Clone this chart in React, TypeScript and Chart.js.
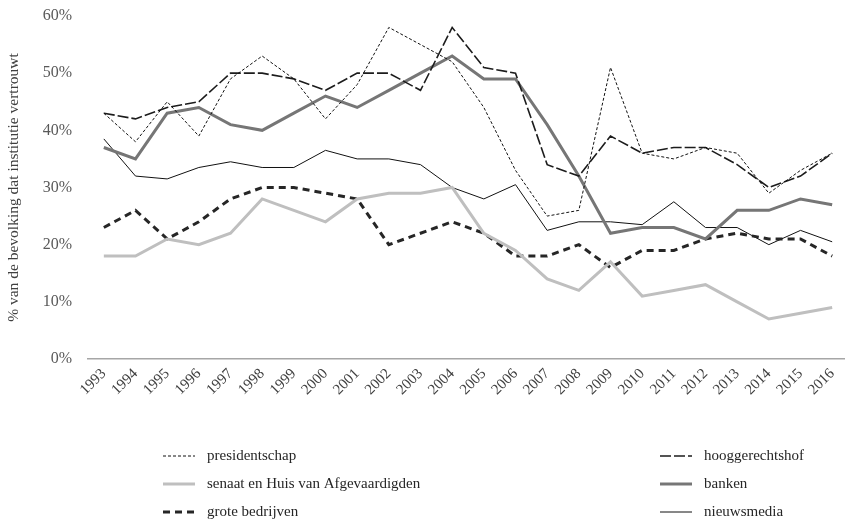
import React, { useEffect, useRef } from "react";
import { Chart, registerables } from "chart.js";

Chart.register(...registerables);

const years = ["1993","1994","1995","1996","1997","1998","1999","2000","2001","2002","2003","2004","2005","2006","2007","2008","2009","2010","2011","2012","2013","2014","2015","2016"];

const presidentschap = [43, 38, 45, 39, 49, 53, 49, 42, 48, 58, 55, 52, 44, 33, 25, 26, 51, 36, 35, 37, 36, 29, 33, 36];
const hooggerechtshof = [43, 42, 44, 45, 50, 50, 49, 47, 50, 50, 47, 58, 51, 50, 34, 32, 39, 36, 37, 37, 34, 30, 32, 36];
const senaat = [18, 18, 21, 20, 22, 28, 26, 24, 28, 29, 29, 30, 22, 19, 14, 12, 17, 11, 12, 13, 10, 7, 8, 9];
const banken = [37, 35, 43, 44, 41, 40, 43, 46, 44, 47, 50, 53, 49, 49, 41, 32, 22, 23, 23, 21, 26, 26, 28, 27];
const groteBedrijven = [23, 26, 21, 24, 28, 30, 30, 29, 28, 20, 22, 24, 22, 18, 18, 20, 16, 19, 19, 21, 22, 21, 21, 18];
const nieuwsmedia = [38.5, 32, 31.5, 33.5, 34.5, 33.5, 33.5, 36.5, 35, 35, 34, 30, 28, 30.5, 22.5, 24, 24, 23.5, 27.5, 23, 23, 20, 22.5, 20.5];

const yTicks = [0, 10, 20, 30, 40, 50, 60];
const yTitle = "% van de bevolking dat institutie vertrouwt";

const FONT = "'Liberation Serif', 'DejaVu Serif', serif";

const legendPlugin = {
  id: "gridLegend",
  afterDraw(chart: any) {
    const ctx = chart.ctx;
    const cols = [163, 660];
    const rows = [456, 484, 512];
    const sampleLen = 32;
    ctx.save();
    chart.data.datasets.forEach((ds: any, i: number) => {
      const x = cols[i % 2];
      const y = rows[Math.floor(i / 2)];
      ctx.beginPath();
      ctx.strokeStyle = ds.borderColor;
      ctx.lineWidth = ds.borderWidth;
      ctx.setLineDash(ds.borderDash || []);
      ctx.moveTo(x, y);
      ctx.lineTo(x + sampleLen, y);
      ctx.stroke();
      ctx.setLineDash([]);
      ctx.fillStyle = "#262626";
      ctx.font = "15px " + FONT;
      ctx.textBaseline = "middle";
      ctx.textAlign = "left";
      ctx.fillText(ds.label, x + sampleLen + 12, y);
    });
    ctx.restore();
  },
};

export default function App() {
  const ref = useRef<HTMLCanvasElement>(null);

  useEffect(() => {
    if (!ref.current) return;
    const mk = (label: string, data: number[], color: string, width: number, dash: number[]) => ({
      label,
      data,
      borderColor: color,
      backgroundColor: color,
      borderWidth: width,
      borderDash: dash,
      pointRadius: 0,
      tension: 0,
      fill: false,
      borderJoinStyle: "miter",
    });
    const chart = new Chart(ref.current, {
      type: "line",
      data: {
        labels: years,
        datasets: [
          mk("presidentschap", presidentschap, "#111111", 1, [3, 2]),
          mk("hooggerechtshof", hooggerechtshof, "#1c1c1c", 1.6, [11, 3]),
          mk("senaat en Huis van Afgevaardigden", senaat, "#bfbfbf", 3, []),
          mk("banken", banken, "#767676", 3, []),
          mk("grote bedrijven", groteBedrijven, "#262626", 3, [7, 5]),
          mk("nieuwsmedia", nieuwsmedia, "#111111", 1, []),
        ] as any,
      },
      options: {
        animation: false,
        responsive: false,
        devicePixelRatio: 1,
        layout: { padding: { left: 0, right: 8, top: 16, bottom: 115 } },
        plugins: {
          legend: { display: false },
          tooltip: { enabled: false },
        },
        scales: {
          x: {
            type: "category",
            offset: true,
            grid: { display: false, drawTicks: false },
            border: { display: true, color: "#a6a6a6", width: 1.5 },
            ticks: {
              autoSkip: false,
              minRotation: 45,
              maxRotation: 45,
              padding: 6,
              color: "#404040",
              font: { family: FONT, size: 15 },
            },
            afterFit: (s: any) => { s.height = 50; },
          },
          y: {
            min: 0,
            max: 60,
            grid: { display: false, drawTicks: false },
            border: { display: false },
            afterBuildTicks: (s: any) => { s.ticks = yTicks.map((v) => ({ value: v })); },
            ticks: {
              padding: 16,
              color: "#595959",
              font: { family: FONT, size: 16 },
              callback: (v: any) => v + "%",
            },
            title: {
              display: true,
              text: yTitle,
              color: "#404040",
              font: { family: FONT, size: 15.5 },
              padding: { top: 5, bottom: 0 },
            },
            afterFit: (s: any) => {
              s.width = 88;
              s.paddingTop = 4;
              s.paddingBottom = 4;
            },
          },
        },
      },
      plugins: [legendPlugin],
    });
    return () => chart.destroy();
  }, []);

  return (
    <div style={{ position: "fixed", left: 0, top: 0, width: 845, height: 524, overflow: "hidden", background: "#fff" }}>
      <canvas ref={ref} width={856} height={524} style={{ position: "absolute", left: 0, top: 0 }} />
    </div>
  );
}
